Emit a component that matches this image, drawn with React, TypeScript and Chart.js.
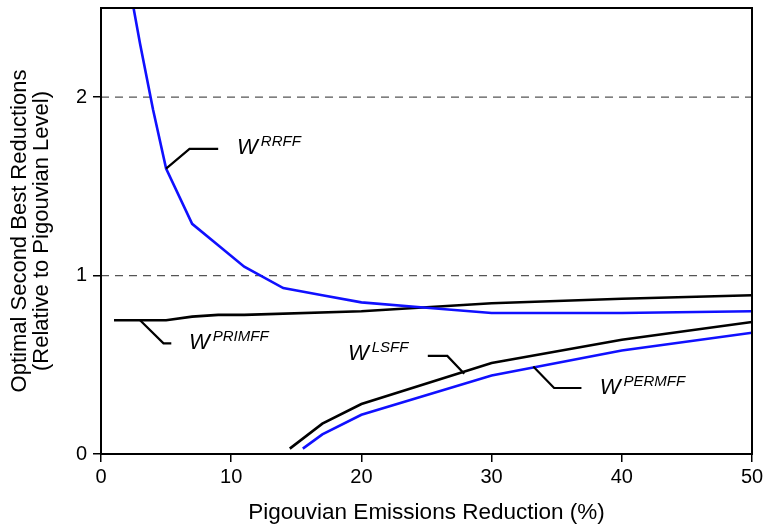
import React, { useEffect, useRef } from "react";
import { Chart, registerables } from "chart.js";

Chart.register(...registerables);

const X_TICKS = [0, 10, 20, 30, 40, 50];
const Y_TICKS = [0, 1, 2];
const REF_LINES = [1, 2];

const RRFF_X = [2, 3, 4, 5, 7, 9, 11, 14, 17, 20, 25, 30, 40, 50];
const RRFF_Y = [2.7, 2.3, 1.93, 1.6, 1.29, 1.17, 1.05, 0.93, 0.89, 0.85, 0.82, 0.79, 0.79, 0.8];

const PRIMFF_X = [1, 5, 7, 9, 11, 20, 30, 40, 50];
const PRIMFF_Y = [0.75, 0.75, 0.77, 0.78, 0.78, 0.8, 0.845, 0.87, 0.89];

const LSFF_X = [14.5, 17, 20, 30, 40, 50];
const LSFF_Y = [0.03, 0.17, 0.28, 0.51, 0.64, 0.74];

const PERMFF_X = [15.5, 17, 20, 30, 40, 50];
const PERMFF_Y = [0.03, 0.11, 0.22, 0.44, 0.58, 0.68];

// Leader lines (data units)
const RRFF_LEADER_X = [5, 6.8, 9.0];
const RRFF_LEADER_Y = [1.6, 1.71, 1.71];
const PRIMFF_LEADER_X = [3.0, 4.8, 5.4];
const PRIMFF_LEADER_Y = [0.75, 0.62, 0.62];
const LSFF_LEADER_X = [25.1, 26.6, 27.9];
const LSFF_LEADER_Y = [0.55, 0.55, 0.45];
const PERMFF_LEADER_X = [33.2, 34.8, 36.9];
const PERMFF_LEADER_Y = [0.49, 0.37, 0.37];

// Labels: position (x, baseline y) and superscript
const LABEL_NAMES = ["RRFF", "PRIMFF", "LSFF", "PERMFF"];
const LABEL_X = [10.45, 6.76, 18.97, 38.3];
const LABEL_Y = [1.68, 0.59, 0.528, 0.337];

const BLUE = "#1010ff";
const BLACK = "#000000";
const FONT = "'Liberation Sans', Arial, Helvetica, sans-serif";

const zip = (xs: number[], ys: number[]) => xs.map((x, i) => ({ x, y: ys[i] }));

const overlayPlugin = {
  id: "overlay",
  beforeDatasetsDraw(chart: any) {
    const { ctx, chartArea, scales } = chart;
    const ys = scales.y;
    ctx.save();
    ctx.strokeStyle = "#555555";
    ctx.lineWidth = 1.2;
    ctx.setLineDash([8, 6]);
    REF_LINES.forEach((v) => {
      const py = ys.getPixelForValue(v);
      ctx.beginPath();
      ctx.moveTo(chartArea.left, py);
      ctx.lineTo(chartArea.right, py);
      ctx.stroke();
    });
    ctx.restore();
  },
  afterDatasetsDraw(chart: any) {
    const { ctx, chartArea, scales } = chart;
    const xs = scales.x;
    const ys = scales.y;
    ctx.save();
    ctx.strokeStyle = "#000";
    ctx.lineWidth = 2;
    ctx.strokeRect(chartArea.left, chartArea.top, chartArea.right - chartArea.left, chartArea.bottom - chartArea.top);
    const leaders: [number[], number[]][] = [
      [RRFF_LEADER_X, RRFF_LEADER_Y],
      [PRIMFF_LEADER_X, PRIMFF_LEADER_Y],
      [LSFF_LEADER_X, LSFF_LEADER_Y],
      [PERMFF_LEADER_X, PERMFF_LEADER_Y],
    ];
    ctx.lineWidth = 2.2;
    leaders.forEach(([lx, ly]) => {
      ctx.beginPath();
      lx.forEach((x, i) => {
        const px = xs.getPixelForValue(x);
        const py = ys.getPixelForValue(ly[i]);
        if (i === 0) ctx.moveTo(px, py);
        else ctx.lineTo(px, py);
      });
      ctx.stroke();
    });
    ctx.fillStyle = "#000";
    ctx.textBaseline = "alphabetic";
    ctx.textAlign = "left";
    LABEL_NAMES.forEach((name, i) => {
      const px = xs.getPixelForValue(LABEL_X[i]);
      const py = ys.getPixelForValue(LABEL_Y[i]);
      ctx.font = `italic 22px ${FONT}`;
      ctx.fillText("W", px, py);
      const w = ctx.measureText("W").width;
      ctx.font = `italic 15px ${FONT}`;
      ctx.fillText(name, px + w + 3, py - 8);
    });
    ctx.restore();
  },
};

export default function App() {
  const ref = useRef<HTMLCanvasElement | null>(null);
  useEffect(() => {
    document.body.style.margin = "0";
    if (!ref.current) return;
    const chart = new Chart(ref.current, {
      type: "line",
      data: {
        datasets: [
          { data: zip(RRFF_X, RRFF_Y), borderColor: BLUE, borderWidth: 2.6, pointRadius: 0, tension: 0 },
          { data: zip(PRIMFF_X, PRIMFF_Y), borderColor: BLACK, borderWidth: 2.6, pointRadius: 0, tension: 0 },
          { data: zip(LSFF_X, LSFF_Y), borderColor: BLACK, borderWidth: 2.6, pointRadius: 0, tension: 0 },
          { data: zip(PERMFF_X, PERMFF_Y), borderColor: BLUE, borderWidth: 2.6, pointRadius: 0, tension: 0 },
        ],
      },
      options: {
        animation: false,
        responsive: false,
        maintainAspectRatio: false,
        layout: { padding: { top: 8, right: 16, left: 0, bottom: 0 } },
        plugins: { legend: { display: false }, tooltip: { enabled: false } },
        scales: {
          x: {
            type: "linear",
            min: 0,
            max: 50,
            afterBuildTicks: (s: any) => {
              s.ticks = X_TICKS.map((v) => ({ value: v }));
            },
            ticks: { color: "#000", font: { family: FONT, size: 20 }, padding: 3, maxRotation: 0 },
            grid: { drawOnChartArea: false, drawTicks: true, tickLength: 8, color: "#000", lineWidth: 1.5 },
            border: { color: "#000", width: 2 },
            title: {
              display: true,
              text: "Pigouvian Emissions Reduction (%)",
              color: "#000",
              font: { family: FONT, size: 22.5 },
              padding: { top: 4, bottom: 2 },
            },
            afterFit: (s: any) => {
              s.height = 74;
              s.paddingLeft = 0;
              s.paddingRight = 0;
            },
          },
          y: {
            type: "linear",
            min: 0,
            max: 2.5,
            afterBuildTicks: (s: any) => {
              s.ticks = Y_TICKS.map((v) => ({ value: v }));
            },
            ticks: { color: "#000", font: { family: FONT, size: 20 }, padding: 6 },
            grid: { drawOnChartArea: false, drawTicks: true, tickLength: 8, color: "#000", lineWidth: 1.5 },
            border: { color: "#000", width: 2 },
            title: {
              display: true,
              text: ["Optimal Second Best Reductions", "(Relative to Pigouvian Level)"],
              color: "#000",
              font: { family: FONT, size: 22, lineHeight: 1.0 },
              padding: { top: 9, bottom: 4 },
            },
            afterFit: (s: any) => {
              s.width = 101;
              s.paddingTop = 0;
              s.paddingBottom = 0;
            },
          },
        },
      },
      plugins: [overlayPlugin],
    });
    return () => chart.destroy();
  }, []);
  return (
    <div style={{ position: "absolute", left: 0, top: 0, width: 768, height: 528, background: "#fff" }}>
      <canvas ref={ref} width={768} height={528} />
    </div>
  );
}
